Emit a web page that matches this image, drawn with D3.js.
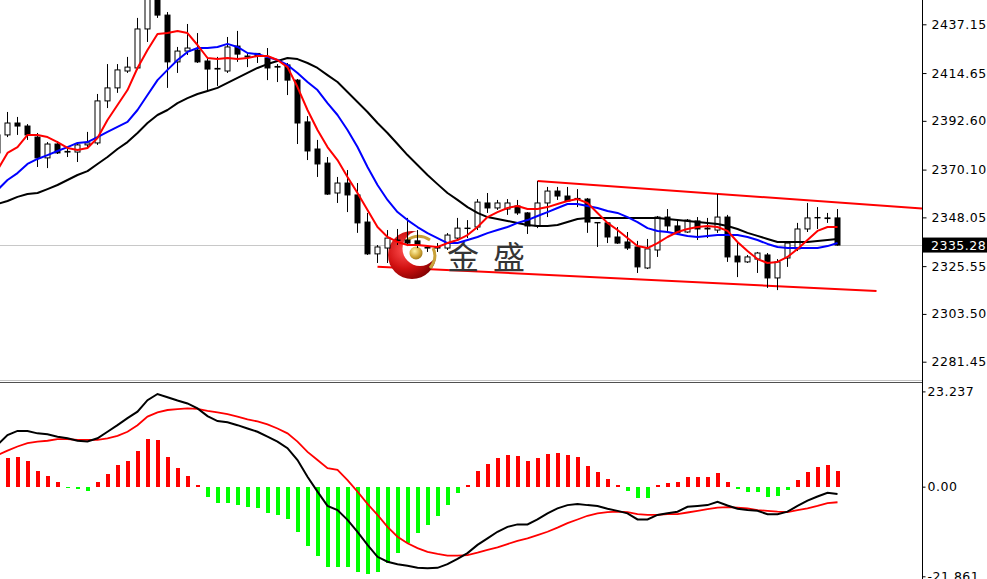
<!DOCTYPE html>
<html><head><meta charset="utf-8">
<script src="https://cdn.jsdelivr.net/npm/d3@7/dist/d3.min.js"></script>
<style>html,body{margin:0;padding:0;background:#fff;overflow:hidden}</style>
</head><body><svg id="c" width="987" height="579"></svg>
<script>
// ---------------- data ----------------
const opens=[2386.1,2386.1,2391.6,2390.2,2385.1,2375.5,2381.9,2378.5,2378.2,2381.5,2382.4,2401.8,2407.8,2415.6,2417.0,2435.0,2450.7,2441.4,2419.8,2424.8,2425.3,2420.2,2416.8,2415.6,2427.1,2422.5,2423.7,2421.6,2417.7,2418.4,2411.4,2392.1,2379.6,2373.1,2359.3,2363.9,2358.4,2345.9,2331.2,2333.9,2337.6,2337.6,2337.2,2334.2,2334.2,2333.9,2338.5,2343.1,2343.6,2354.7,2352.4,2351.9,2353.3,2350.1,2344.1,2354.7,2360.2,2357.9,2356.8,2356.5,2345.7,2345.5,2339.0,2336.7,2334.4,2324.7,2333.0,2348.2,2344.1,2341.3,2346.4,2343.1,2342.2,2348.2,2330.2,2327.5,2328.8,2330.7,2320.1,2329.3,2333.5,2342.7,2348.0,2347.8,2347.8];
const highs=[2388.4,2396.7,2394.4,2391.1,2387.0,2382.8,2383.3,2380.5,2382.8,2387.5,2405.0,2418.8,2418.8,2422.1,2440.1,2455.3,2453.9,2442.8,2426.7,2437.3,2433.1,2422.1,2422.1,2431.3,2434.1,2423.9,2423.9,2426.2,2418.8,2419.3,2411.9,2394.8,2383.8,2375.9,2366.7,2369.9,2363.9,2350.1,2335.3,2342.2,2342.7,2347.8,2342.2,2335.3,2336.2,2340.8,2347.8,2346.8,2356.5,2359.3,2356.1,2356.5,2356.1,2350.5,2364.8,2362.1,2362.1,2362.1,2361.1,2357.0,2345.9,2345.9,2343.6,2341.3,2337.2,2338.1,2348.7,2351.9,2346.8,2347.3,2348.2,2347.8,2358.8,2349.2,2336.7,2330.7,2332.1,2331.6,2328.8,2336.7,2345.5,2354.7,2352.8,2350.1,2351.9];
const lows=[2375.5,2385.1,2386.1,2383.8,2371.3,2370.8,2377.3,2375.9,2373.6,2380.5,2381.5,2398.5,2405.5,2414.7,2416.1,2429.0,2440.1,2407.8,2414.7,2423.0,2419.3,2406.8,2408.7,2414.7,2419.8,2417.4,2419.3,2411.4,2410.5,2404.5,2381.9,2374.5,2366.7,2358.4,2354.7,2350.5,2340.9,2330.7,2327.0,2327.0,2335.3,2334.8,2333.9,2332.1,2332.1,2333.0,2337.6,2338.5,2342.2,2350.1,2351.5,2349.2,2349.2,2340.4,2343.1,2348.2,2356.1,2355.2,2352.8,2340.9,2334.4,2336.2,2335.8,2333.0,2322.4,2324.2,2329.8,2341.8,2339.9,2340.9,2337.6,2338.5,2340.9,2327.5,2320.5,2327.0,2322.4,2315.5,2314.5,2325.2,2332.5,2341.3,2342.7,2345.5,2335.0];
const closes=[2377.8,2391.6,2390.2,2386.1,2375.5,2381.9,2377.8,2378.2,2381.5,2382.4,2401.8,2407.8,2416.1,2417.4,2435.0,2450.7,2441.4,2419.8,2424.8,2426.2,2419.8,2416.5,2416.5,2426.7,2423.4,2422.1,2422.5,2417.0,2417.4,2411.4,2391.6,2378.7,2372.7,2358.8,2363.9,2358.4,2345.5,2331.2,2334.4,2338.5,2337.4,2336.2,2335.3,2333.9,2333.9,2339.9,2343.1,2342.9,2355.1,2352.4,2354.7,2354.7,2350.1,2344.1,2354.7,2360.2,2357.9,2355.6,2356.5,2345.9,2345.5,2339.0,2336.2,2333.9,2325.2,2333.5,2348.2,2344.1,2340.9,2346.8,2342.7,2342.7,2348.2,2329.8,2327.5,2329.8,2331.6,2320.1,2327.5,2336.2,2342.7,2347.8,2347.8,2347.5,2335.28];
const maFast=[2369.9,2377.8,2380.5,2386.1,2386.1,2385.1,2382.8,2380.1,2379.1,2380.1,2384.7,2393.0,2399.9,2406.8,2417.0,2425.3,2432.7,2433.1,2434.1,2433.1,2427.6,2421.6,2421.1,2421.6,2421.1,2421.6,2422.5,2422.5,2420.7,2417.4,2408.2,2397.6,2388.4,2380.5,2374.5,2366.7,2359.3,2351.5,2343.6,2339.0,2336.7,2335.3,2335.3,2334.8,2334.4,2336.2,2337.6,2339.9,2343.6,2348.2,2350.5,2352.4,2353.3,2351.9,2351.9,2352.8,2354.2,2355.6,2356.5,2354.7,2350.1,2345.5,2342.2,2338.5,2334.8,2333.9,2336.2,2339.0,2341.3,2342.7,2343.6,2344.1,2343.6,2341.8,2336.7,2332.5,2328.8,2327.0,2327.5,2329.8,2333.5,2337.6,2341.8,2343.6,2343.6];
const maMid=[2360.7,2365.3,2368.5,2372.7,2375.0,2376.8,2378.7,2380.5,2382.4,2382.8,2385.1,2387.5,2389.8,2392.1,2397.6,2404.5,2411.4,2416.1,2420.7,2424.4,2426.2,2426.2,2426.7,2428.1,2426.7,2423.9,2423.4,2422.1,2420.7,2418.4,2414.7,2410.5,2406.8,2400.8,2395.3,2388.4,2380.5,2371.3,2363.0,2356.1,2350.5,2346.8,2343.6,2340.8,2338.5,2336.2,2336.2,2337.6,2339.0,2340.8,2342.2,2343.6,2345.5,2346.8,2348.7,2350.5,2352.4,2354.2,2354.2,2353.3,2352.4,2351.0,2350.1,2348.2,2345.9,2343.1,2341.8,2341.3,2340.4,2339.5,2339.0,2339.5,2339.9,2339.9,2339.9,2339.0,2337.6,2335.8,2334.4,2333.9,2333.9,2333.9,2333.9,2334.8,2336.2];
const maSlow=[2354.2,2355.6,2357.5,2358.8,2359.3,2361.1,2363.0,2365.3,2367.6,2369.4,2372.7,2375.9,2379.6,2382.8,2387.0,2391.6,2395.3,2397.6,2400.8,2403.1,2405.0,2406.4,2407.8,2410.1,2412.4,2414.7,2417.0,2418.8,2420.2,2421.6,2421.1,2419.3,2417.0,2413.7,2410.5,2405.9,2401.3,2396.7,2391.6,2387.0,2381.9,2376.8,2372.2,2367.6,2363.4,2359.3,2356.1,2352.8,2350.1,2348.2,2347.3,2346.4,2345.5,2344.5,2344.1,2344.1,2344.5,2345.9,2347.3,2347.8,2347.8,2347.8,2347.8,2347.8,2347.8,2347.8,2347.8,2347.3,2346.8,2346.4,2345.9,2345.5,2345.0,2344.1,2342.7,2340.9,2339.5,2338.1,2336.7,2336.7,2336.7,2336.7,2337.2,2337.6,2338.1];
const macdHist=[6.5,7.1,7.2,6.3,3.9,2.7,1.2,-0.3,-0.5,-1.0,1.2,3.1,5.3,6.3,8.8,11.6,11.4,7.3,4.6,2.6,0.3,-2.4,-4.1,-4.0,-4.5,-4.9,-5.3,-6.3,-6.9,-8.0,-11.1,-14.4,-16.8,-19.5,-19.5,-19.5,-20.7,-21.4,-20.7,-18.7,-16.2,-13.8,-11.4,-9.3,-7.1,-4.5,-1.5,0.3,3.9,5.5,6.9,7.7,7.5,6.3,6.9,8.0,8.3,7.7,7.2,5.0,3.7,1.8,0.3,-1.0,-2.7,-2.7,0.3,0.8,1.2,2.4,2.4,2.4,3.4,1.2,-0.5,-1.2,-1.2,-2.4,-2.3,-0.8,1.6,3.7,4.7,5.3,3.9];
const macdLine=[10.2,12.6,13.6,13.6,13.0,12.8,12.2,11.8,11.2,11.0,11.8,13.4,15.0,16.7,18.3,21.1,22.6,21.8,21.0,20.3,19.1,17.2,16.0,15.7,15.0,14.2,13.4,12.2,11.0,9.4,6.5,2.4,-1.2,-4.7,-5.7,-8.1,-11.0,-14.2,-17.1,-18.3,-18.9,-19.3,-19.8,-19.9,-19.8,-18.9,-17.6,-16.2,-14.2,-12.6,-11.0,-9.8,-9.2,-9.2,-8.0,-6.5,-5.3,-4.5,-4.2,-4.5,-4.7,-5.4,-5.9,-6.5,-8.0,-8.0,-6.9,-6.5,-6.1,-4.9,-4.7,-4.5,-3.7,-4.6,-5.4,-5.7,-5.9,-6.7,-6.7,-6.1,-4.7,-3.4,-2.4,-1.5,-1.8];
const signalLine=[7.7,8.8,9.8,10.6,11.0,11.2,11.6,11.6,11.4,11.4,11.4,11.8,12.4,13.4,15.0,17.1,18.1,18.7,18.9,19.1,19.0,18.5,18.1,17.7,17.1,16.4,15.9,15.2,14.2,13.0,11.0,8.5,6.5,4.5,4.1,1.6,-1.2,-4.2,-6.9,-9.8,-12.2,-13.8,-15.0,-15.9,-16.4,-16.8,-16.8,-16.7,-16.1,-15.4,-14.8,-14.0,-13.2,-12.6,-11.8,-11.0,-10.0,-8.9,-8.0,-7.1,-6.5,-6.2,-6.1,-6.2,-6.7,-6.9,-6.9,-6.7,-6.7,-6.3,-5.9,-5.5,-5.1,-5.0,-5.1,-5.3,-5.7,-5.9,-6.1,-6.2,-5.7,-5.3,-4.7,-4.0,-3.8];
const upperTrend=[[54,2364.8],[92.45,2352.2]];
const lowerTrend=[[38,2325.3],[87.9,2314.1]];
const priceTicks=["2437.15","2414.65","2392.60","2370.10","2348.05","2325.55","2303.50","2281.45"];
const macdTicks=["23.237","0.00","-21.861"];
const lastPrice=2335.28;
const logoText=["金","盛"];

// ---------------- layout ----------------
const W=987,H=579,plotR=922,axisX=922.5;
const svg=d3.select('#c');
const x=d3.scaleLinear().domain([0,84]).range([-2.5,837.5]);
const y=d3.scaleLinear().domain([2281.45,2437.15]).range([361.7,24.3]);
const ym=d3.scaleLinear().domain([-21.861,23.237]).range([576.3,391.4]);
const idx=d3.range(opens.length);

const defs=svg.append('defs');
defs.append('clipPath').attr('id','cm').append('rect').attr('x',0).attr('y',0).attr('width',plotR).attr('height',380);
defs.append('clipPath').attr('id','cd').append('rect').attr('x',0).attr('y',383).attr('width',plotR).attr('height',H-383);
const rg=defs.append('radialGradient').attr('id','redg').attr('cx','35%').attr('cy','40%').attr('r','70%');
rg.append('stop').attr('offset','0%').attr('stop-color','#ff5050');
rg.append('stop').attr('offset','55%').attr('stop-color','#d01010');
rg.append('stop').attr('offset','100%').attr('stop-color','#7a0000');
const gg=defs.append('radialGradient').attr('id','goldg').attr('cx','40%').attr('cy','35%').attr('r','70%');
gg.append('stop').attr('offset','0%').attr('stop-color','#fff2a8');
gg.append('stop').attr('offset','60%').attr('stop-color','#d4aa3a');
gg.append('stop').attr('offset','100%').attr('stop-color','#9a7418');

svg.append('rect').attr('width',W).attr('height',H).attr('fill','#fff');

// ---------------- main panel ----------------
const main=svg.append('g').attr('clip-path','url(#cm)');
main.append('line').attr('x1',0).attr('x2',plotR).attr('y1',Math.round(y(lastPrice))+0.5).attr('y2',Math.round(y(lastPrice))+0.5)
  .attr('stroke','#c8c8c8').attr('stroke-width',1);

const tl=d3.line().x(d=>x(d[0])).y(d=>y(d[1]));
[upperTrend,lowerTrend].forEach(t=>main.append('path').attr('d',tl(t)).attr('fill','none').attr('stroke','#ff0000').attr('stroke-width',2));

// logo watermark
const logo=main.append('g');
logo.append('circle').attr('cx',412).attr('cy',255).attr('r',24).attr('fill','url(#redg)');
logo.append('circle').attr('cx',420).attr('cy',248.5).attr('r',17.5).attr('fill','#fff');
logo.append('path').attr('d','M406,241 Q418,232 430,240').attr('fill','none').attr('stroke','#c9a23a').attr('stroke-width',3);
logo.append('path').attr('d','M433,248 Q438,258 430,268').attr('fill','none').attr('stroke','#c9a23a').attr('stroke-width',3);
logo.append('circle').attr('cx',416).attr('cy',253).attr('r',6.5).attr('fill','url(#goldg)');
logo.selectAll('text').data(logoText).enter().append('text')
  .attr('x',(d,i)=>447+i*46).attr('y',269).text(d=>d)
  .attr('font-family','"Noto Sans CJK SC","Noto Sans CJK JP",sans-serif').attr('font-size',32).attr('fill','#353535');

// candles
const cg=main.append('g');
idx.forEach(i=>{
  const cx=x(i), o=opens[i], c=closes[i];
  const g=cg.append('g');
  g.append('line').attr('x1',cx).attr('x2',cx).attr('y1',y(highs[i])).attr('y2',y(lows[i])).attr('stroke','#000').attr('stroke-width',1);
  const top=y(Math.max(o,c)), bot=y(Math.min(o,c));
  g.append('rect').attr('x',cx-2.5).attr('y',top).attr('width',5).attr('height',Math.max(bot-top,0.01))
    .attr('fill',c>=o?'#fff':'#000').attr('stroke','#000').attr('stroke-width',1);
});

// moving averages
const ml=d3.line().x((d,i)=>x(i)).y(d=>y(d));
[[maSlow,'#000000'],[maMid,'#0000ff'],[maFast,'#ff0000']].forEach(([s,col])=>
  main.append('path').attr('d',ml(s)).attr('fill','none').attr('stroke',col).attr('stroke-width',2).attr('stroke-linejoin','round'));

// ---------------- separator ----------------
svg.append('rect').attr('x',0).attr('y',380).attr('width',plotR).attr('height',1).attr('fill','#c4c4c4');
svg.append('rect').attr('x',0).attr('y',382).attr('width',plotR).attr('height',1).attr('fill','#505050');

// ---------------- MACD panel ----------------
const md=svg.append('g').attr('clip-path','url(#cd)');
md.selectAll('rect.h').data(macdHist).enter().append('rect').attr('class','h')
  .attr('x',(d,i)=>x(i)-2).attr('width',4)
  .attr('y',d=>d>=0?ym(d):ym(0)).attr('height',d=>Math.max(Math.abs(ym(d)-ym(0)),1.5))
  .attr('fill',d=>d>=0?'#ff0000':'#00ff00').attr('shape-rendering','crispEdges');
const ll=d3.line().x((d,i)=>x(i)).y(d=>ym(d));
md.append('path').attr('d',ll(signalLine)).attr('fill','none').attr('stroke','#ff0000').attr('stroke-width',1.8);
md.append('path').attr('d',ll(macdLine)).attr('fill','none').attr('stroke','#000').attr('stroke-width',2);

// ---------------- axes ----------------
svg.append('line').attr('x1',axisX).attr('x2',axisX).attr('y1',0).attr('y2',H).attr('stroke','#000').attr('stroke-width',1);
const fontF='"DejaVu Sans",Verdana,sans-serif';
const pa=svg.append('g').attr('transform',`translate(${axisX},0)`)
  .call(d3.axisRight(y).tickValues(priceTicks.map(Number)).tickFormat((d,i)=>priceTicks[i]).tickSize(4).tickPadding(5));
pa.select('.domain').remove();
pa.selectAll('text').attr('font-family',fontF).attr('font-size',12.5).attr('letter-spacing','0.5px').attr('fill','#000');
pa.selectAll('line').attr('stroke','#000');
const ma=svg.append('g').attr('transform',`translate(${axisX},0)`)
  .call(d3.axisRight(ym).tickValues(macdTicks.map(Number)).tickFormat((d,i)=>macdTicks[i]).tickSize(3).tickPadding(2));
ma.select('.domain').remove();
ma.selectAll('text').attr('font-family',fontF).attr('font-size',12.5).attr('letter-spacing','0.5px').attr('fill','#000');
ma.selectAll('line').attr('stroke','#000');

// last price label
const ly=y(lastPrice);
svg.append('rect').attr('x',923).attr('y',ly-7.5).attr('width',W-923).attr('height',15).attr('fill','#000');
svg.append('text').attr('x',931).attr('y',ly).attr('dy','0.36em').text(lastPrice.toFixed(2))
  .attr('font-family',fontF).attr('font-size',12.5).attr('letter-spacing','0.5px').attr('fill','#fff');
</script></body></html>
